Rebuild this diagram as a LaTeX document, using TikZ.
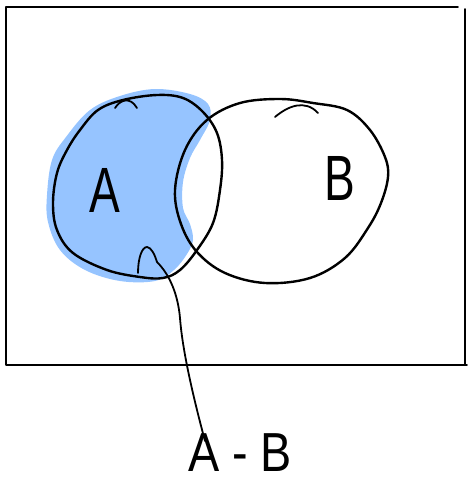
\documentclass[tikz,border=0pt]{standalone}
\usepackage{fontspec}
\setmainfont{Liberation Sans}
\definecolor{fillblue}{RGB}{150,196,255}
\tikzset{
  ink/.style={draw=black, line width=2.4pt, line cap=round, line join=round},
  thin ink/.style={draw=black, line width=1.8pt, line cap=round, line join=round},
  biglabel/.style={font=\fontsize{64}{64}\selectfont, inner sep=0pt, xscale=0.72},
  sublabel/.style={font=\fontsize{55}{55}\selectfont, inner sep=0pt, xscale=0.85}
}
\begin{document}
\begin{tikzpicture}[x=1pt,y=-1pt]
\useasboundingbox (0,0) rectangle (467,485);
% frame
\draw[thin ink] (6,7) -- (458,7);
\draw[thin ink] (465,9) -- (465,365);
\draw[thin ink] (6,7) -- (6,365) -- (467,365);
% blue fill (A minus B, sloppy)
\fill[fillblue] plot[smooth cycle, tension=0.6] coordinates {
 (47,195) (52,160) (66,137) (90,110) (120,96) (155,89) (190,94) (208,104)
 (210,120) (200,140) (190,158) (183,182) (183,208) (190,224) (193,240)
 (187,254) (174,270) (155,281) (120,281) (85,270) (60,250) (48,222)};
% circle A
\draw[ink] plot[smooth cycle, tension=0.6] coordinates {
 (53,203) (57,173) (67,150) (80,130) (98,110) (123,100) (157,95) (183,98)
 (203,112) (217,133) (222,160) (220,190) (213,223) (197,250) (180,270)
 (163,278) (140,277) (107,270) (73,253) (57,230)};
% circle B
\draw[ink] plot[smooth cycle, tension=0.6] coordinates {
 (175,190) (185,150) (207,120) (240,103) (280,99) (313,103) (347,110)
 (370,130) (385,157) (388,177) (381,203) (368,228) (345,258) (310,278)
 (265,283) (225,273) (197,252) (181,224)};
% ticks
\draw[thin ink] (115,108) .. controls (120,100) and (130,96) .. (137,108);
\draw[thin ink] (275,117) .. controls (288,106) and (305,99) .. (318,113);
% labels
\node[biglabel] (la) at (105,190) {A};
\node[biglabel] (lb) at (340,178) {B};
\node[sublabel, anchor=north] (lab) at (240,433) {A - B};
% pointer
\coordinate (tip) at (157,262);
\draw[thin ink] (138,273) .. controls (138,258) and (142,247) .. (147,247)
  .. controls (151,247) and (155,255) .. (tip);
\draw[thin ink] ([xshift=-35pt,yshift=-8pt]lab.north) .. controls (190,385) and (182,345) .. (180,318)
  .. controls (178,295) and (170,275) .. (tip);
\end{tikzpicture}
\end{document}
